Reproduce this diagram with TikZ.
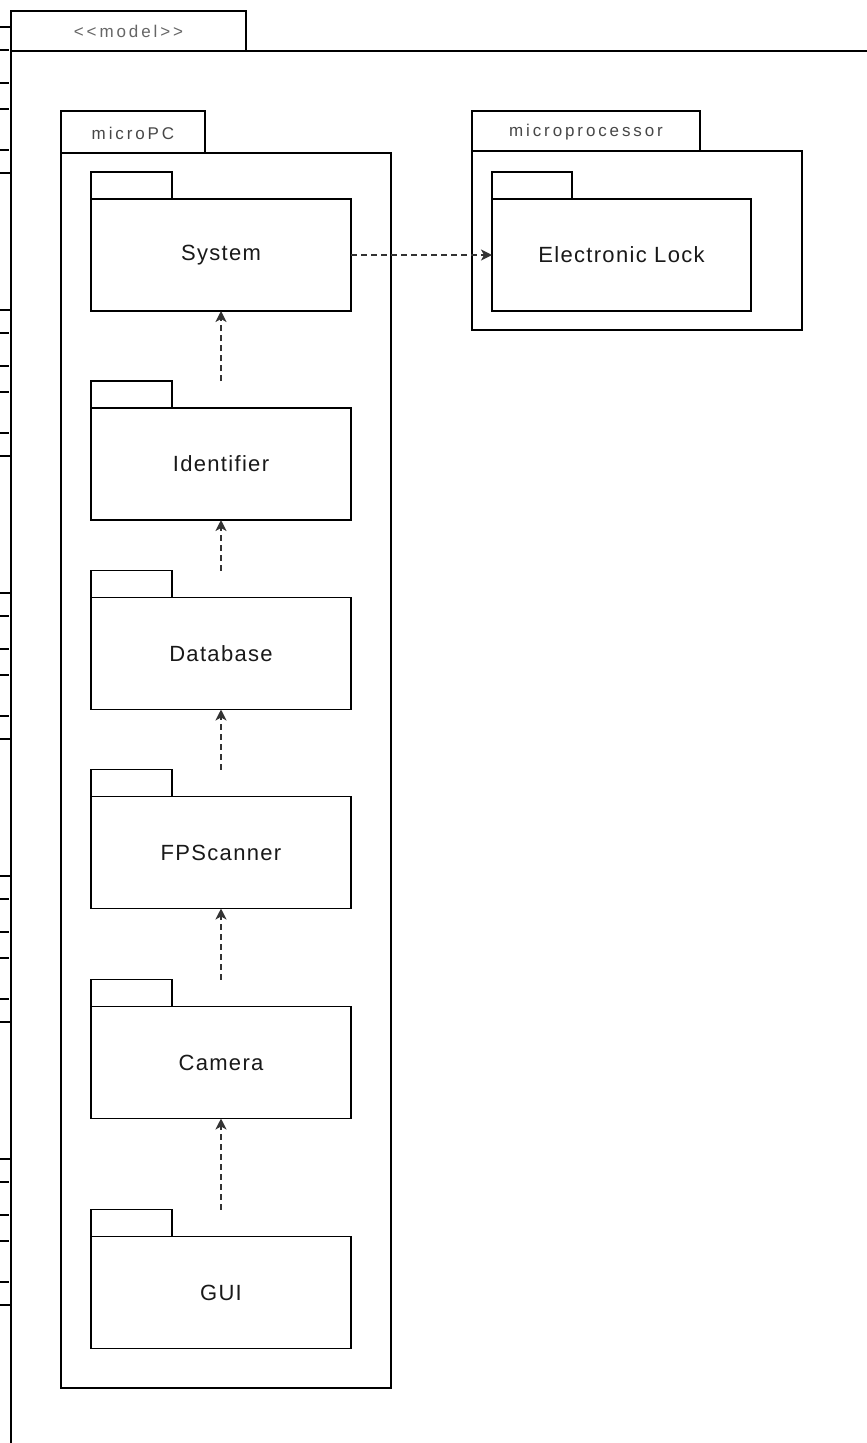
\documentclass[tikz,border=0pt]{standalone}
\usepackage{fontspec}
\setmainfont{Liberation Sans}
\newfontfamily\bigf{Liberation Sans}[LetterSpace=6]
\newfontfamily\smallf{Liberation Sans}[LetterSpace=17]
\usetikzlibrary{arrows.meta,calc}
\begin{document}
\begin{tikzpicture}[x=1pt,y=-1pt,
  ln/.style={line width=1.4pt, draw=black},
  pkg/.style={draw=black, line width=1.4pt, minimum width=260pt, minimum height=112pt, inner sep=0pt, outer sep=0pt, font=\bigf\fontsize{22}{26}\selectfont, text=black!90},
  pkgframe/.style={draw=black, line width=1.4pt, inner sep=0pt, outer sep=0pt},
  tablabel/.style={font=\smallf\fontsize{17}{20}\selectfont, text=black!72, inner sep=0pt},
  dep/.style={draw=black!80, line width=1.5pt, dash pattern=on 6pt off 4pt, -{Stealth[length=11pt,width=11pt,inset=3pt]}},
  lefttick/.style={line width=1.3pt, draw=black}
]
\useasboundingbox (0,0) rectangle (867,1443);
\fill[white] (0,0) rectangle (867,1443);

% cut-off element at the left edge
\foreach \g in {27,310,593,876,1159}{
  \draw[lefttick] (0,\g) -- (11,\g);
  \draw[lefttick] (0,\g+146) -- (11,\g+146);
  \foreach \o in {23,56,82,123}{
    \draw[lefttick, line width=1.1pt] (0,\g+\o) -- (9,\g+\o);
  }
}

% model frame
\node[pkgframe, minimum width=235pt, minimum height=40pt] (modeltab) at (128.5,31) {};
\node[tablabel, text=black!60] (modellab) at (modeltab.center) {<<model>>};
\draw[ln] (867,51) -- (11,51) -- (11,1443);

% microPC frame
\node[pkgframe, minimum width=330pt, minimum height=1235pt] (mpc) at (226,770.5) {};
\draw[ln] (mpc.north west) rectangle ++(144,-42);
\node[tablabel] (mpclab) at ($(mpc.north west)+(72,-20)$) {microPC};

% microprocessor frame
\node[pkgframe, minimum width=330pt, minimum height=179pt] (mproc) at (637,240.5) {};
\draw[ln] (mproc.north west) rectangle ++(228,-40);
\node[tablabel] (mproclab) at ($(mproc.north west)+(114,-19)$) {microprocessor};

% packages
\node[pkg] (sys) at (221,255) {System};
\node[pkg] (idf) at (221,464) {Identifier};
\node[pkg] (db)  at (221,653.5) {Database};
\node[pkg] (fps) at (221,852.5) {FPScanner};
\node[pkg] (cam) at (221,1062.5) {Camera};
\node[pkg] (gui) at (221,1292.5) {GUI};
\node[pkg, minimum width=259pt] (el) at (621.5,255) {Electronic Lock};

\foreach \p in {sys,idf,db,fps,cam,gui}{
  \draw[ln] (\p.north west) rectangle ++(81,-27);
}
\draw[ln] (el.north west) rectangle ++(80,-27);

% dependencies
\coordinate (idf-t) at ($(idf.north)+(0,-27)$);
\coordinate (db-t)  at ($(db.north)+(0,-27)$);
\coordinate (fps-t) at ($(fps.north)+(0,-27)$);
\coordinate (cam-t) at ($(cam.north)+(0,-27)$);
\coordinate (gui-t) at ($(gui.north)+(0,-27)$);
\draw[dep] (idf-t) -- (sys.south);
\draw[dep] (db-t)  -- (idf.south);
\draw[dep] (fps-t) -- (db.south);
\draw[dep] (cam-t) -- (fps.south);
\draw[dep] (gui-t) -- (cam.south);
\draw[dep] (sys.east) -- (el.west);
\end{tikzpicture}
\end{document}
